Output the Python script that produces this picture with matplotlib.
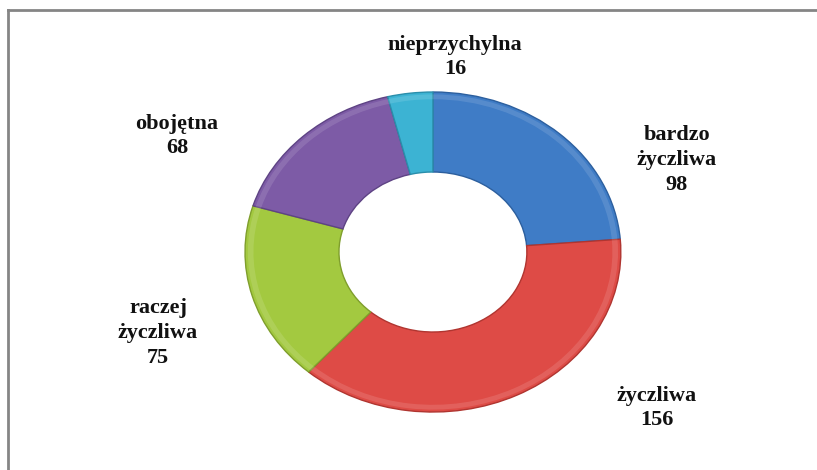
import matplotlib.pyplot as plt
from matplotlib.lines import Line2D

labels = ['bardzo\nżyczliwa', 'życzliwa', 'raczej\nżyczliwa', 'obojętna', 'nieprzychylna']
values = [98, 156, 75, 68, 16]
colors = ['#3f7cc6', '#de4b46', '#a3c940', '#7d5ba6', '#3cb3d3']
edges = ['#2c5f9e', '#b03530', '#7f9e2c', '#5e4384', '#2a8eab']

# where the text blocks sit (data coords of the stretched donut)
label_pos = [(1.298, 0.575), (1.191, -0.975), (-1.463, -0.506),
             (-1.362, 0.725), (0.117, 1.219)]

fig = plt.figure(figsize=(8.17, 4.70), dpi=100)
ax = fig.add_axes([0.2539, 0.0553, 0.552, 0.817])

wedges, _ = ax.pie(values, colors=colors, startangle=90, counterclock=False,
                   radius=1.0, wedgeprops=dict(width=0.5, linewidth=1.0))
for w, ec in zip(wedges, edges):
    w.set_edgecolor(ec)

# soft highlight on the outer rim
ax.pie(values, colors=['white'] * len(values), startangle=90, counterclock=False,
       radius=0.985, wedgeprops=dict(width=0.03, linewidth=0, alpha=0.12))

ax.set_aspect('auto')
ax.set_xlim(-1.2, 1.2)
ax.set_ylim(-1.2, 1.2)
ax.axis('off')

for lab, val, (x, y) in zip(labels, values, label_pos):
    ax.text(x, y, '%s\n%d' % (lab, val), ha='center', va='center',
            fontsize=16, fontweight='bold', family='Liberation Serif',
            linespacing=1.33, color='#111111', clip_on=False)

# chart frame (only top and left edges are in view)
fig.add_artist(Line2D([8 / 817, 1], [1 - 10 / 470, 1 - 10 / 470],
                      transform=fig.transFigure, color='#858585', lw=2))
fig.add_artist(Line2D([8 / 817, 8 / 817], [0, 1 - 10 / 470],
                      transform=fig.transFigure, color='#858585', lw=2))

fig.savefig('out.png', dpi=100)
